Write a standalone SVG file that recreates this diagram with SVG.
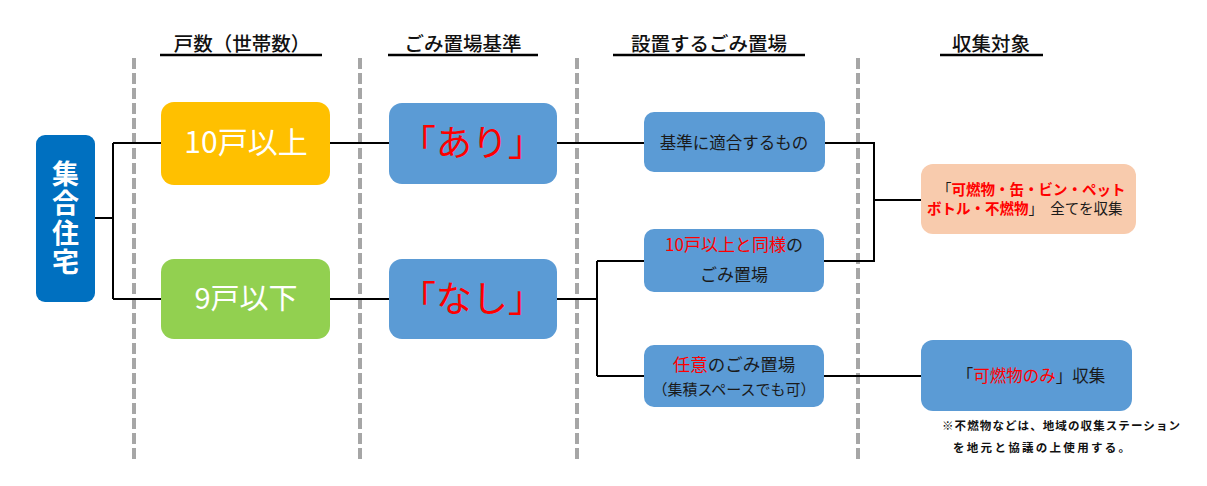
<svg xmlns="http://www.w3.org/2000/svg" width="1207" height="486" viewBox="0 0 1207 486">
<style>
text{font-family:"Noto Sans CJK JP","Noto Sans",sans-serif}
.hd{font-size:19.5px;fill:#111;text-anchor:middle;font-weight:500}
.ul{stroke:#000;stroke-width:2.5}
.dash{stroke:#A6A6A6;stroke-width:4;stroke-dasharray:11 4}
.con{stroke:#000;stroke-width:2;fill:none}
.b{fill:#5B9BD5}
.t{fill:#1a1a1a;text-anchor:middle}
.r{fill:#FF0000}
.w{fill:#fff;text-anchor:middle}
</style>
<rect width="1207" height="486" fill="#fff"/>
<g id="headers">
<text class="hd" x="242" y="51">戸数（世帯数）</text>
<line class="ul" x1="160" y1="55" x2="322" y2="55"/>
<text class="hd" x="463" y="51">ごみ置場基準</text>
<line class="ul" x1="388" y1="55" x2="538" y2="55"/>
<text class="hd" x="709" y="51">設置するごみ置場</text>
<line class="ul" x1="613" y1="55" x2="805" y2="55"/>
<text class="hd" x="991" y="51">収集対象</text>
<line class="ul" x1="940" y1="55" x2="1043" y2="55"/>
</g>
<g id="dividers">
<line class="dash" x1="134" y1="58" x2="134" y2="460"/>
<line class="dash" x1="360" y1="58" x2="360" y2="460"/>
<line class="dash" x1="577" y1="58" x2="577" y2="460"/>
<line class="dash" x1="858" y1="58" x2="858" y2="460"/>
</g>
<g id="connectors">
<path class="con" d="M95 218H113M113 143V299M113 143H161M113 299H161"/>
<path class="con" d="M330 143H389M330 299H389"/>
<path class="con" d="M556 143H644"/>
<path class="con" d="M556 299H597M597 261V376M597 261H644M597 376H644"/>
<path class="con" d="M825 143H874V261H824M874 200H921"/>
<path class="con" d="M824 376H921"/>
</g>
<g id="n-shugo">
<rect x="36" y="135" width="59" height="167" rx="9" fill="#0070C0"/>
<text class="w" x="65.5" y="219" font-size="27" font-weight="bold" writing-mode="vertical-rl" letter-spacing="2.5">集合住宅</text>
</g>
<g id="n-10">
<rect x="161" y="102" width="169" height="83" rx="13" fill="#FFC000"/>
<text class="w" x="246" y="153" font-size="30">10戸以上</text>
</g>
<g id="n-9">
<rect x="161" y="259" width="169" height="80" rx="13" fill="#92D050"/>
<text class="w" x="246" y="309" font-size="29">9戸以下</text>
</g>
<g id="n-ari">
<rect class="b" x="389" y="103" width="168" height="81" rx="13"/>
<text class="r" x="472" y="156" font-size="36" text-anchor="middle">「あり」</text>
</g>
<g id="n-nashi">
<rect class="b" x="389" y="259" width="168" height="80" rx="13"/>
<text class="r" x="472" y="312" font-size="36" text-anchor="middle">「なし」</text>
</g>
<g id="n-kijun">
<rect class="b" x="644" y="112" width="181" height="60" rx="10"/>
<text class="t" x="734" y="149" font-size="16.5">基準に適合するもの</text>
</g>
<g id="n-doyo">
<rect class="b" x="644" y="229" width="180" height="63" rx="10"/>
<text class="t" x="734" y="251" font-size="17"><tspan class="r">10戸以上と同様</tspan>の</text>
<text class="t" x="734" y="281" font-size="17">ごみ置場</text>
</g>
<g id="n-nini">
<rect class="b" x="644" y="345" width="180" height="62" rx="10"/>
<text class="t" x="734" y="371" font-size="17.5"><tspan class="r">任意</tspan>のごみ置場</text>
<text class="t" x="734" y="395" font-size="15">（集積スペースでも可）</text>
</g>
<g id="n-all">
<rect x="921" y="164" width="215" height="70" rx="12" fill="#F8CBAD"/>
<text x="937" y="195" font-size="14.5" fill="#1a1a1a">「<tspan class="r" font-weight="bold">可燃物・缶・ビン・ペット</tspan></text>
<text x="927" y="214" font-size="14.5" fill="#1a1a1a"><tspan class="r" font-weight="bold">ボトル・不燃物</tspan>」　全てを収集</text>
</g>
<g id="n-kanen">
<rect class="b" x="921" y="340" width="211" height="71" rx="12"/>
<text class="t" x="1031" y="382" font-size="16.5">「<tspan class="r">可燃物のみ</tspan>」収集</text>
</g>
<g id="note">
<text x="942" y="430" font-size="11.5" font-weight="bold" fill="#111" textLength="238" lengthAdjust="spacing">※不燃物などは、地域の収集ステーション</text>
<text x="953" y="452" font-size="11.5" font-weight="bold" fill="#111" textLength="177" lengthAdjust="spacing">を地元と協議の上使用する。</text>
</g>
</svg>
